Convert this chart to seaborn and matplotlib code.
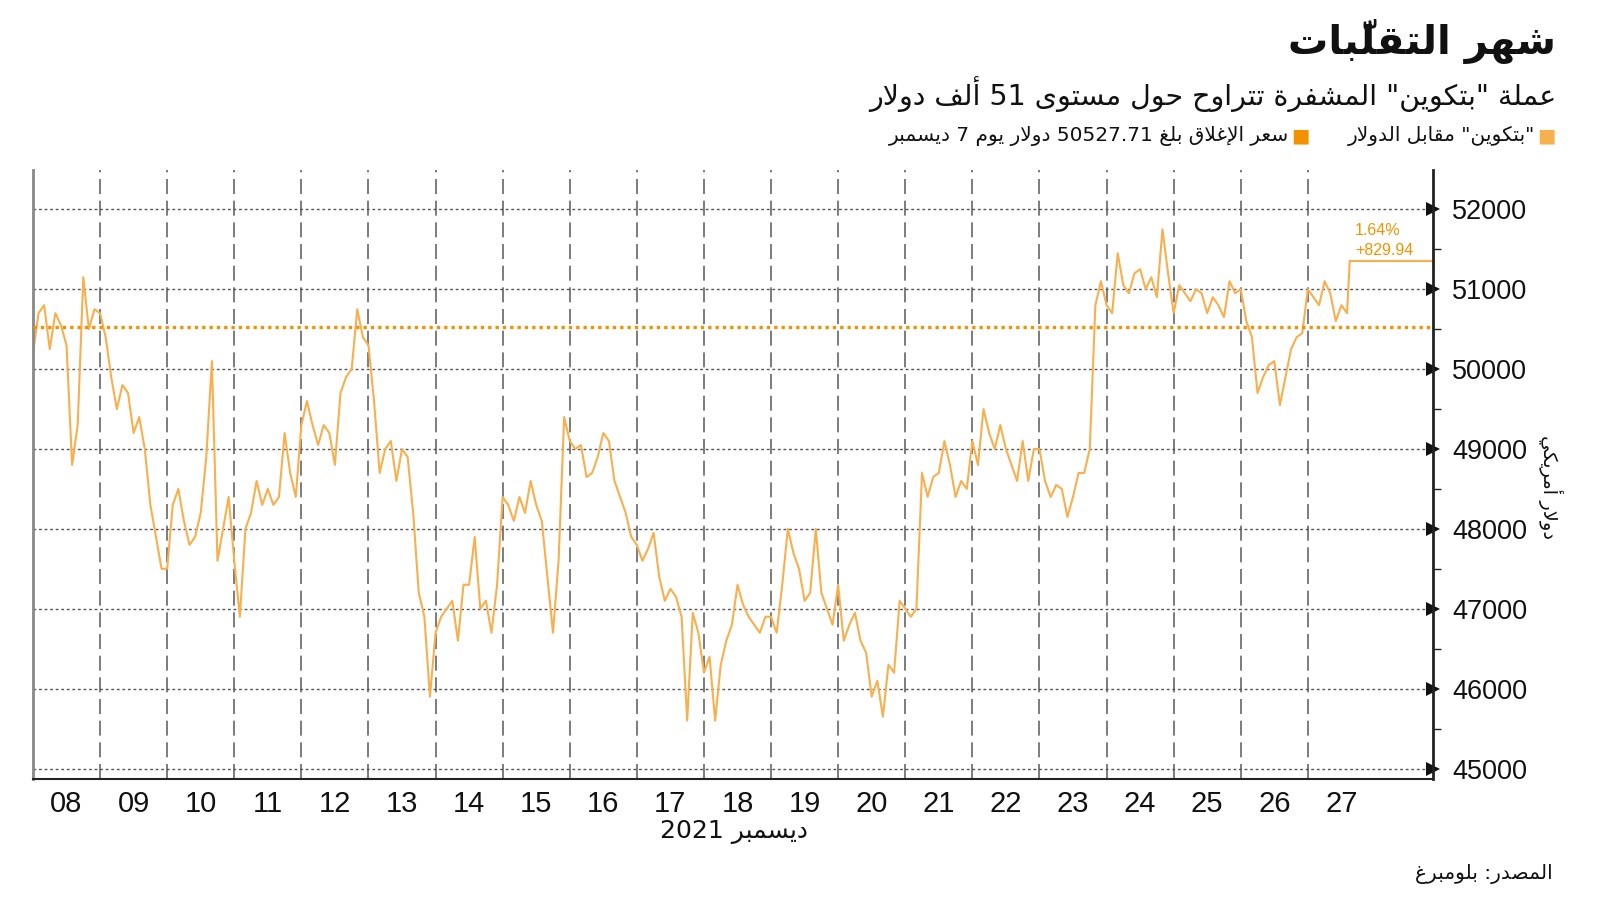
import seaborn as sns
import matplotlib.pyplot as plt
import matplotlib.dates as mdates
import matplotlib.ticker as mticker
import pandas as pd

# ========================================================
#                   DATA (2-hourly readings, USD)
# ========================================================

dec08 = [50200, 50700, 50800, 50250, 50700, 50550, 50300, 48800, 49300, 51150, 50500, 50750]
dec09 = [50700, 50400, 49900, 49500, 49800, 49700, 49200, 49400, 49000, 48300, 47900, 47500]
dec10 = [47500, 48300, 48500, 48100, 47800, 47900, 48200, 48900, 50100, 47600, 48000, 48400]
dec11 = [47600, 46900, 48000, 48200, 48600, 48300, 48500, 48300, 48400, 49200, 48700, 48400]
dec12 = [49300, 49600, 49300, 49050, 49300, 49200, 48800, 49700, 49900, 50000, 50750, 50400]
dec13 = [50300, 49600, 48700, 49000, 49100, 48600, 49000, 48900, 48200, 47200, 46900, 45900]
dec14 = [46700, 46900, 47000, 47100, 46600, 47300, 47300, 47900, 47000, 47100, 46700, 47300]
dec15 = [48400, 48300, 48100, 48400, 48200, 48600, 48300, 48100, 47400, 46700, 47600, 49400]
dec16 = [49100, 49000, 49050, 48650, 48700, 48900, 49200, 49100, 48600, 48400, 48200, 47900]
dec17 = [47800, 47600, 47750, 47950, 47400, 47100, 47250, 47150, 46900, 45600, 46950, 46700]
dec18 = [46200, 46400, 45600, 46300, 46600, 46800, 47300, 47050, 46900, 46800, 46700, 46900]
dec19 = [46900, 46700, 47300, 48000, 47700, 47500, 47100, 47200, 48000, 47200, 47000, 46800]
dec20 = [47300, 46600, 46800, 46950, 46600, 46450, 45900, 46100, 45650, 46300, 46200, 47100]
dec21 = [47000, 46900, 47000, 48700, 48400, 48650, 48700, 49100, 48800, 48400, 48600, 48500]
dec22 = [49100, 48800, 49500, 49200, 49000, 49300, 49000, 48800, 48600, 49100, 48600, 49000]
dec23 = [49000, 48600, 48400, 48550, 48500, 48150, 48400, 48700, 48700, 49000, 50800, 51100]
dec24 = [50800, 50700, 51450, 51050, 50950, 51200, 51250, 51000, 51150, 50900, 51750, 51200]
dec25 = [50700, 51050, 50950, 50850, 51000, 50950, 50700, 50900, 50800, 50650, 51100, 50950]
dec26 = [51000, 50600, 50400, 49700, 49900, 50050, 50100, 49550, 49900, 50250, 50400, 50450]
dec27 = [51000, 50900, 50800, 51100, 50950, 50600, 50800, 50700]

day_names = ["2021-12-%02d" % d for d in range(8, 28)]
day_values = [dec08, dec09, dec10, dec11, dec12, dec13, dec14, dec15, dec16, dec17,
              dec18, dec19, dec20, dec21, dec22, dec23, dec24, dec25, dec26, dec27]

last_time = "2021-12-27 15:00"
last_price = 51357.65
prev_close = 50527.71
change_abs = "+829.94"
change_pct = "1.64%"

y_ticks = [45000, 46000, 47000, 48000, 49000, 50000, 51000, 52000]

title = "شهر التقلّبات"
subtitle = 'عملة "بتكوين" المشفرة تتراوح حول مستوى 51 ألف دولار'
legend_1 = '"بتكوين" مقابل الدولار'
legend_2 = "سعر الإغلاق بلغ 50527.71 دولار يوم 7 ديسمبر"
source = "المصدر: بلومبرغ"
month_label = "ديسمبر 2021"
y_label = "دولار أمريكي"

# ========================================================
#          ARABIC SHAPING (matplotlib draws LTR only)
# ========================================================

DUAL = {"ب": 0xFE8F, "ت": 0xFE95, "ث": 0xFE99, "ج": 0xFE9D, "ح": 0xFEA1, "خ": 0xFEA5,
        "س": 0xFEB1, "ش": 0xFEB5, "ص": 0xFEB9, "ض": 0xFEBD, "ط": 0xFEC1, "ظ": 0xFEC5,
        "ع": 0xFEC9, "غ": 0xFECD, "ف": 0xFED1, "ق": 0xFED5, "ك": 0xFED9, "ل": 0xFEDD,
        "م": 0xFEE1, "ن": 0xFEE5, "ه": 0xFEE9, "ي": 0xFEF1}
RIGHT = {"ا": 0xFE8D, "أ": 0xFE83, "إ": 0xFE87, "آ": 0xFE81, "ة": 0xFE93, "د": 0xFEA9,
         "ذ": 0xFEAB, "ر": 0xFEAD, "ز": 0xFEAF, "و": 0xFEED, "ى": 0xFEEF}
LAM_ALEF = {"ا": 0xFEFB, "أ": 0xFEF7, "إ": 0xFEF9, "آ": 0xFEF5}
MARKS = "\u064B\u064C\u064D\u064E\u064F\u0650\u0651\u0652"


def join_type(b):
    if b in DUAL:
        return "D"
    if b in RIGHT or b.startswith("LA"):
        return "R"
    return None


def ar(text):
    units = []
    for ch in text:
        if ch in MARKS and units:
            units[-1][1] += ch
        else:
            units.append([ch, ""])
    merged = []
    i = 0
    while i < len(units):
        b, m = units[i]
        if b == "ل" and i + 1 < len(units) and units[i + 1][0] in LAM_ALEF:
            merged.append(["LA" + units[i + 1][0], m + units[i + 1][1]])
            i += 2
        else:
            merged.append([b, m])
            i += 1
    out = []
    for k, (b, m) in enumerate(merged):
        t = join_type(b)
        p = k > 0 and join_type(merged[k - 1][0]) == "D" and t is not None
        n = t == "D" and k + 1 < len(merged) and join_type(merged[k + 1][0]) is not None
        if b.startswith("LA"):
            g = chr(LAM_ALEF[b[2]] + (1 if p else 0))
        elif t == "D":
            g = chr(DUAL[b] + (3 if (p and n) else 1 if p else 2 if n else 0))
        elif t == "R":
            g = chr(RIGHT[b] + (1 if p else 0))
        else:
            g = b
        # zero-width mark is drawn from the pen position rightwards, so put it first
        out.append((m + g, t is None and (b.isdigit() or b in ".%+")))
    runs = []
    for s, ltr in out:
        if runs and runs[-1][0] == ltr:
            runs[-1][1].append(s)
        else:
            runs.append([ltr, [s]])
    vis = ""
    for ltr, items in reversed(runs):
        vis += "".join(items if ltr else reversed(items))
    return vis


# ========================================================
#                   BUILD TABLE
# ========================================================

frames = []
for day, vals in zip(day_names, day_values):
    t = pd.date_range(day, periods=len(vals), freq="2h")
    frames.append(pd.DataFrame({"time": t, "price": vals}))
frames.append(pd.DataFrame({"time": [pd.Timestamp(last_time)], "price": [last_price]}))
df = pd.concat(frames, ignore_index=True)

day_starts = pd.to_datetime(day_names)
day_noons = day_starts + pd.Timedelta(hours=12)

# ========================================================
#                   PLOT
# ========================================================

LINE = "#F8AF4E"
DARK = "#F39200"

sns.set_style("white")
plt.rcParams["font.family"] = ["DejaVu Sans"]

fig = plt.figure(figsize=(16, 9.01), dpi=100)
ax = fig.add_axes([0.0206, 0.1359, 0.875, 0.6754])

sns.lineplot(data=df, x="time", y="price", color=LINE, lw=1.5, ax=ax, estimator=None)

x_start = pd.Timestamp("2021-12-08 00:00")
x_end = pd.Timestamp("2021-12-28 20:45")

ax.axhline(prev_close, color=DARK, ls=(0, (1, 1.2)), lw=2.4, zorder=3)
ax.hlines(last_price, pd.Timestamp(last_time), x_end, color=LINE, lw=1.5)

ax.set_xlim(x_start, x_end)
ax.set_ylim(44875, 52492)
ax.set_xlabel("")
ax.set_ylabel("")

# x axis: labels at noon, dashed grid at midnight
ax.xaxis.set_major_locator(mticker.FixedLocator(mdates.date2num(day_noons)))
ax.xaxis.set_major_formatter(mdates.DateFormatter("%d"))
ax.xaxis.set_minor_locator(mticker.FixedLocator(mdates.date2num(day_starts)))
ax.tick_params(axis="x", which="major", length=0, pad=8)
ax.tick_params(axis="x", which="minor", direction="in", length=6, color="#888888", width=1)
ax.grid(which="minor", axis="x", ls=(0, (9, 4)), color="#666666", lw=1.2)
for lab in ax.get_xticklabels():
    lab.set_family(["Liberation Sans", "DejaVu Sans"])
    lab.set_fontsize(21)
    lab.set_color("#111111")

# y axis on the right
ax.yaxis.tick_right()
ax.set_yticks(y_ticks)
ax.yaxis.set_major_formatter(mticker.FuncFormatter(lambda v, p: "%d" % v))
ax.yaxis.set_minor_locator(mticker.MultipleLocator(500))
ax.tick_params(axis="y", which="major", length=10, width=0, pad=4, labelsize=19.5)
ax.tick_params(axis="y", which="minor", direction="out", length=6, width=1, color="#222222")
for t in ax.yaxis.get_major_ticks():
    t.tick2line.set_marker(">")
    t.tick2line.set_markersize(10)
    t.tick2line.set_markerfacecolor("#111111")
    t.tick2line.set_markeredgewidth(0)
for lab in ax.get_yticklabels():
    lab.set_family(["Liberation Sans", "DejaVu Sans"])
    lab.set_color("#111111")
ax.grid(which="major", axis="y", ls=(0, (2, 2)), color="#555555", lw=1)

ax.spines["top"].set_visible(False)
ax.spines["left"].set_color("#888888")
ax.spines["left"].set_linewidth(2)
ax.spines["right"].set_color("#222222")
ax.spines["right"].set_linewidth(2)
ax.spines["bottom"].set_color("#222222")
ax.spines["bottom"].set_linewidth(1.5)

# change annotation at the last point
ax.annotate(change_abs, xy=(pd.Timestamp(last_time), last_price), xytext=(5, 10),
            textcoords="offset pixels", color=DARK, fontsize=11.5, va="center",
            family=["Liberation Sans", "DejaVu Sans"])
ax.annotate(change_pct, xy=(pd.Timestamp(last_time), last_price), xytext=(5, 30),
            textcoords="offset pixels", color=DARK, fontsize=11.5, va="center",
            family=["Liberation Sans", "DejaVu Sans"])

# ========================================================
#                   TEXTS
# ========================================================

fig.text(0.9725, 0.954, ar(title), ha="right", va="center", fontsize=29,
         fontweight="bold", color="#111111")
fig.text(0.9725, 0.8957, ar(subtitle), ha="right", va="center", fontsize=20.5, color="#111111")

fig.text(0.9725, 0.849, "■", ha="right", va="center", fontsize=14, color=LINE)
fig.text(0.9594, 0.849, ar(legend_1), ha="right", va="center", fontsize=14.5, color="#111111")
fig.text(0.8185, 0.849, "■", ha="right", va="center", fontsize=14, color=DARK)
fig.text(0.806, 0.849, ar(legend_2), ha="right", va="center", fontsize=14.5, color="#111111")

fig.text(0.9706, 0.03, ar(source), ha="right", va="center", fontsize=14.5, color="#111111")
fig.text(0.459, 0.0766, ar(month_label), ha="center", va="center", fontsize=18, color="#111111")
fig.text(0.969, 0.4595, ar(y_label), ha="center", va="center", fontsize=14,
         rotation=270, color="#111111")

fig.savefig("out.png", dpi=100)
